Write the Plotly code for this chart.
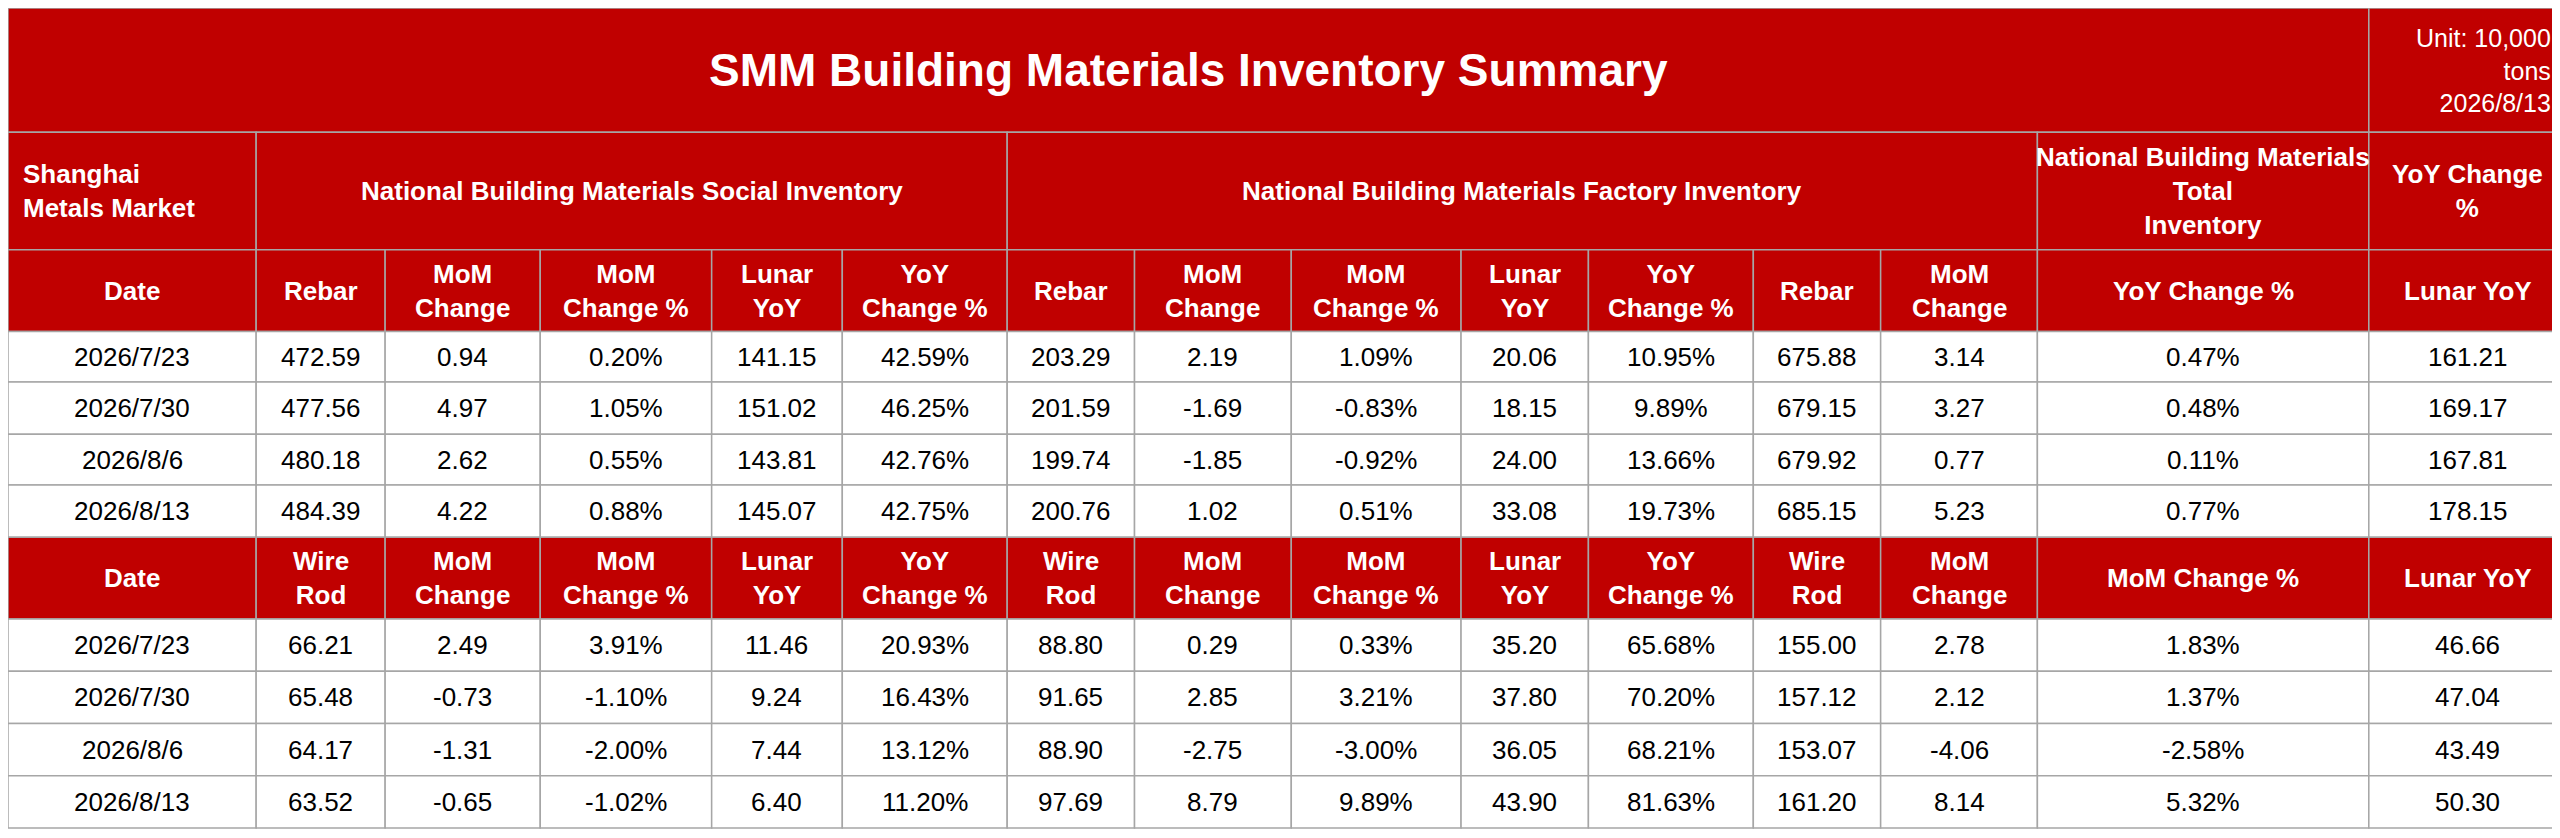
import plotly.graph_objects as go

# column edges and row edges in table units (display px of reference)
col_edges = [0, 152, 231, 326, 431, 511, 612, 690, 786, 890, 968, 1069, 1147, 1243, 1446, 1567]
row_edges = [0, 76, 148, 198, 229, 261, 292, 324, 374, 406, 438, 470, 502]

title = "SMM Building Materials Inventory Summary"
unit_text = "Unit: 10,000<br>tons<br>2026/8/13"
group_labels = ["Shanghai<br>Metals Market", "National Building Materials Social Inventory",
                "National Building Materials Factory Inventory",
                "National Building Materials<br>Total<br>Inventory", "YoY Change<br>%"]
group_spans = [(0, 0), (1, 5), (6, 12), (13, 13), (14, 14)]

header_rebar = ["Date", "Rebar", "MoM<br>Change", "MoM<br>Change %", "Lunar<br>YoY", "YoY<br>Change %",
                "Rebar", "MoM<br>Change", "MoM<br>Change %", "Lunar<br>YoY", "YoY<br>Change %",
                "Rebar", "MoM<br>Change", "YoY Change %", "Lunar YoY"]
header_wire = ["Date", "Wire<br>Rod", "MoM<br>Change", "MoM<br>Change %", "Lunar<br>YoY", "YoY<br>Change %",
               "Wire<br>Rod", "MoM<br>Change", "MoM<br>Change %", "Lunar<br>YoY", "YoY<br>Change %",
               "Wire<br>Rod", "MoM<br>Change", "MoM Change %", "Lunar YoY"]

rebar_rows = [
    ["2026/7/23", "472.59", "0.94", "0.20%", "141.15", "42.59%", "203.29", "2.19", "1.09%", "20.06", "10.95%", "675.88", "3.14", "0.47%", "161.21"],
    ["2026/7/30", "477.56", "4.97", "1.05%", "151.02", "46.25%", "201.59", "-1.69", "-0.83%", "18.15", "9.89%", "679.15", "3.27", "0.48%", "169.17"],
    ["2026/8/6", "480.18", "2.62", "0.55%", "143.81", "42.76%", "199.74", "-1.85", "-0.92%", "24.00", "13.66%", "679.92", "0.77", "0.11%", "167.81"],
    ["2026/8/13", "484.39", "4.22", "0.88%", "145.07", "42.75%", "200.76", "1.02", "0.51%", "33.08", "19.73%", "685.15", "5.23", "0.77%", "178.15"],
]
wire_rows = [
    ["2026/7/23", "66.21", "2.49", "3.91%", "11.46", "20.93%", "88.80", "0.29", "0.33%", "35.20", "65.68%", "155.00", "2.78", "1.83%", "46.66"],
    ["2026/7/30", "65.48", "-0.73", "-1.10%", "9.24", "16.43%", "91.65", "2.85", "3.21%", "37.80", "70.20%", "157.12", "2.12", "1.37%", "47.04"],
    ["2026/8/6", "64.17", "-1.31", "-2.00%", "7.44", "13.12%", "88.90", "-2.75", "-3.00%", "36.05", "68.21%", "153.07", "-4.06", "-2.58%", "43.49"],
    ["2026/8/13", "63.52", "-0.65", "-1.02%", "6.40", "11.20%", "97.69", "8.79", "9.89%", "43.90", "81.63%", "161.20", "8.14", "5.32%", "50.30"],
]

RED = "#C00000"
BORDER = "#A6A6A6"
FONT = "Liberation Sans, Arial, sans-serif"

fig = go.Figure()
shapes, annots = [], []


def cell(c0, c1, r, text, fill, color, size, bold=False, align="center"):
    x0, x1 = col_edges[c0], col_edges[c1 + 1]
    y0, y1 = row_edges[r], row_edges[r + 1]
    shapes.append(dict(type="rect", xref="x", yref="y", x0=x0, x1=x1, y0=y0, y1=y1,
                       fillcolor=fill, line=dict(color=BORDER, width=1.5), layer="below"))
    if align == "left":
        x, xa = x0 + 8, "left"
    elif align == "right":
        x, xa = x1 - 8, "right"
    else:
        x, xa = (x0 + x1) / 2, "center"
    annots.append(dict(x=x, y=(y0 + y1) / 2, xref="x", yref="y", showarrow=False,
                       text=f"<b>{text}</b>" if bold else text, xanchor=xa, yanchor="middle",
                       align=xa, font=dict(family=FONT, size=size, color=color)))


cell(0, 13, 0, title, RED, "white", 46, bold=True)
cell(14, 14, 0, unit_text, RED, "white", 25, align="right")
for lab, (a, b) in zip(group_labels, group_spans):
    cell(a, b, 1, lab, RED, "white", 26, bold=True, align="left" if a == 0 and lab.startswith("Shanghai") else "center")
for r0, hdr, rows in [(2, header_rebar, rebar_rows), (7, header_wire, wire_rows)]:
    for c, h in enumerate(hdr):
        cell(c, c, r0, h, RED, "white", 26, bold=True)
    for i, row in enumerate(rows):
        for c, v in enumerate(row):
            cell(c, c, r0 + 1 + i, v, "white", "black", 26)

fig.add_trace(go.Scatter(x=[], y=[]))
fig.update_layout(
    width=2560, height=838, margin=dict(l=0, r=0, t=0, b=0),
    paper_bgcolor="white", plot_bgcolor="white", showlegend=False,
    shapes=shapes, annotations=annots,
    xaxis=dict(range=[0, 1568], visible=False, fixedrange=True),
    yaxis=dict(range=[513, 0], visible=False, fixedrange=True),
)
fig.write_html("out.html")
